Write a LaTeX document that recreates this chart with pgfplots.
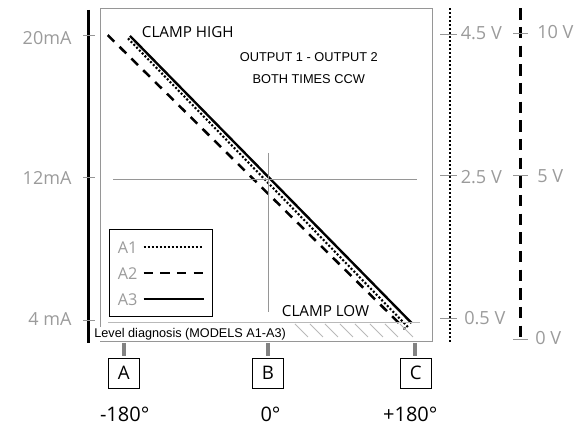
\documentclass[border=0pt]{standalone}
\usepackage{pgfplots}
\pgfplotsset{compat=1.18}
\usepackage{fontspec}
\setmainfont{Open Sans}
\newfontfamily\arial{Liberation Sans}
\definecolor{tgray}{RGB}{155,155,155}
\definecolor{fgray}{RGB}{150,150,150}
\definecolor{hgray}{RGB}{185,185,185}
\definecolor{sgray}{RGB}{130,130,130}
\begin{document}
\begin{tikzpicture}[x=0.75pt,y=0.75pt]
\useasboundingbox (0,0) rectangle (583,432);
\begin{axis}[
  at={(75pt,67.725pt)}, anchor=south west,
  scale only axis, width=249.2pt, height=250.05pt,
  xmin=-209, xmax=202, ymin=2.78, ymax=21.58,
  xtick=\empty, ytick=\empty,
  axis line style={draw=fgray, line width=0.75pt},
  clip=false,
  legend plot pos=right,
  legend style={at={(axis cs:-197.5,9.118)}, anchor=north west, draw=black, line width=0.75pt,
    font=\fontsize{12.2}{14}\selectfont, text=tgray,
    inner xsep=6pt, inner ysep=8.5pt, row sep=10.5pt, column sep=3.75pt,
    nodes={inner sep=0pt, text height=9pt, text depth=0pt},
    cells={anchor=west}},
  legend image code/.code={\draw[#1] (0pt,0pt) -- (45pt,0pt);},
]
\addplot[black, line width=1.6pt, dash pattern=on 1.5pt off 1.5pt] coordinates {(-174.4,19.88) (171.9,3.61)};
\addlegendentry{A1}
\addplot[black, line width=1.9pt, dash pattern=on 7pt off 5.5pt] coordinates {(-199.5,20.07) (168.2,3.50)};
\addlegendentry{A2}
\addplot[black, line width=1.8pt] coordinates {(-171.9,20.02) (176.5,3.83)};
\addlegendentry{A3}
\end{axis}
\begin{scope}[yshift=324pt, yscale=-1]
% crosshair
\draw[fgray, line width=0.75pt] (113,179.3) -- (416.7,179.3);
\draw[fgray, line width=0.75pt] (268.3,153) -- (268.3,311.7);
% clamp low line and hatch
\draw[hgray, line width=1pt] (108,322.7) -- (420,322.7);
\foreach \k in {0,...,7} {
  \draw[hgray, line width=0.6pt] ({295+15*\k},324) -- ({308+15*\k},337);
}
% texts inside
\node[anchor=base west, font=\fontsize{11.4}{13}\selectfont, inner sep=0pt] at (141.7,37.3) {CLAMP HIGH};
\node[anchor=base, font=\arial\fontsize{9.6}{11}\selectfont, inner sep=0pt] at (308.8,61.7) {OUTPUT 1 - OUTPUT 2};
\node[anchor=base, font=\arial\fontsize{9.6}{11}\selectfont, inner sep=0pt] at (308.7,83.3) {BOTH TIMES CCW};
\node[anchor=base west, font=\fontsize{11.4}{13}\selectfont, inner sep=0pt] at (281.7,316.7) {CLAMP LOW};
\node[anchor=base west, font=\arial\fontsize{9.5}{11}\selectfont, inner sep=0.6pt, fill=white] at (93.3,337.3) {Level diagnosis (MODELS A1-A3)};
% left axis
\draw[black, line width=2.5pt] (88.3,10) -- (88.3,343);
\foreach \yy in {35.7,177.7,320.7} { \draw[fgray, line width=0.75pt] (83,\yy) -- (95,\yy); }
\node[anchor=base east, text=tgray, font=\fontsize{13.5}{16}\selectfont, inner sep=0pt] at (71.7,44.3) {20mA};
\node[anchor=base east, text=tgray, font=\fontsize{13.5}{16}\selectfont, inner sep=0pt] at (71.7,185) {12mA};
\node[anchor=base east, text=tgray, font=\fontsize{13.5}{16}\selectfont, inner sep=0pt] at (71.7,326) {4 mA};
% right dotted axis
\draw[black, line width=2.2pt, dash pattern=on 1.5pt off 1.5pt] (450,8.3) -- (450,341.7);
\foreach \yy in {35,175.5,319} { \draw[fgray, line width=0.75pt] (440,\yy) -- (457,\yy); }
\node[anchor=base west, text=tgray, font=\fontsize{13.6}{16}\selectfont, inner sep=0pt] at (460.5,39.3) {4.5 V};
\node[anchor=base west, text=tgray, font=\fontsize{13.6}{16}\selectfont, inner sep=0pt] at (460.5,183.3) {2.5 V};
\node[anchor=base west, text=tgray, font=\fontsize{13.6}{16}\selectfont, inner sep=0pt] at (464,325) {0.5 V};
% right dashed axis
\draw[black, line width=2.4pt, dash pattern=on 8.5pt off 5.5pt] (520.7,8.3) -- (520.7,339.3);
\foreach \yy in {33.3,176,339.3} { \draw[fgray, line width=0.75pt] (513,\yy) -- (528,\yy); }
\node[anchor=base west, text=tgray, font=\fontsize{13.6}{16}\selectfont, inner sep=0pt] at (537,38.7) {10 V};
\node[anchor=base west, text=tgray, font=\fontsize{13.6}{16}\selectfont, inner sep=0pt] at (537,183) {5 V};
\node[anchor=base west, text=tgray, font=\fontsize{13.6}{16}\selectfont, inner sep=0pt] at (535,345) {0 V};
% bottom markers
\foreach \xx in {124,268,415} { \draw[sgray, line width=2.4pt] (\xx,343) -- (\xx,356); }
\draw[black, line width=0.75pt] (108.3,359) rectangle (139.3,389);
\draw[black, line width=0.75pt] (252.7,359) rectangle (283.3,389);
\draw[black, line width=0.75pt] (400,359) rectangle (431.7,389);
\node[anchor=base, font=\fontsize{14}{16}\selectfont, inner sep=0pt] at (123.8,379.3) {A};
\node[anchor=base, font=\fontsize{14}{16}\selectfont, inner sep=0pt] at (268,379.3) {B};
\node[anchor=base, font=\fontsize{14}{16}\selectfont, inner sep=0pt] at (415.8,379.3) {C};
\node[anchor=base, font=\fontsize{15}{18}\selectfont, inner sep=0pt] at (124.7,421.7) {-180°};
\node[anchor=base, font=\fontsize{15}{18}\selectfont, inner sep=0pt] at (270.5,421.7) {0°};
\node[anchor=base, font=\fontsize{15}{18}\selectfont, inner sep=0pt] at (410.3,421.7) {+180°};
\end{scope}
\end{tikzpicture}
\end{document}
